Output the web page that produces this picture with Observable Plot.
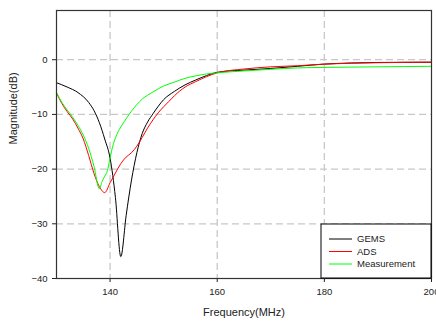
<!DOCTYPE html>
<html>
<head>
<meta charset="utf-8">
<script src="https://cdn.jsdelivr.net/npm/d3@7"></script>
<script src="https://cdn.jsdelivr.net/npm/@observablehq/plot@0.6"></script>
<style>
  html, body { margin: 0; padding: 0; background: #fff; }
</style>
</head>
<body>
<div id="chart"></div>
<script>
// ---- Data ----
const gemsFreq = [130, 132, 134, 136, 137, 138, 139, 140, 141, 142, 143, 144, 145, 146, 147, 148, 149, 150, 152, 154, 156, 158, 160, 165, 170, 175, 180, 185, 190, 200];
const gemsDb   = [-4.2, -5.0, -6.0, -7.8, -9.3, -11.5, -14.5, -18.0, -25.2, -36.0, -28.5, -22.0, -17.0, -13.5, -11.4, -9.9, -8.5, -7.3, -5.8, -4.6, -3.7, -2.9, -2.3, -1.9, -1.6, -1.2, -0.8, -0.6, -0.5, -0.45];

const adsFreq = [130, 131, 132, 133, 134, 135, 136, 137, 138, 139, 140, 141, 142, 143, 144, 145, 146, 147, 148, 149, 150, 151, 152, 154, 156, 158, 160, 165, 170, 175, 180, 190, 200];
const adsDb   = [-6.1, -8.0, -9.5, -10.8, -12.5, -14.5, -17.5, -20.8, -23.2, -24.3, -22.5, -20.7, -19.0, -17.8, -17.0, -15.8, -14.2, -12.5, -11.0, -9.7, -8.6, -7.6, -6.6, -5.0, -4.0, -3.1, -2.4, -1.7, -1.3, -1.1, -0.8, -0.55, -0.45];

const measFreq = [130, 131, 132, 133, 134, 135, 136, 137, 138, 138.5, 139, 139.5, 140, 140.5, 141, 142, 143, 144, 145, 146, 148, 150, 152, 154, 156, 158, 160, 165, 170, 175, 180, 185, 190, 200];
const measDb   = [-6.0, -7.8, -9.2, -10.5, -12.0, -13.8, -16.2, -19.5, -23.6, -22.3, -21.3, -20.3, -18.0, -15.8, -14.3, -12.3, -10.8, -9.4, -8.2, -7.2, -5.9, -4.8, -4.1, -3.4, -2.95, -2.6, -2.4, -2.05, -1.75, -1.5, -1.4, -1.35, -1.3, -1.2];

const seriesNames  = ["GEMS", "ADS", "Measurement"];
const seriesColors = ["#000000", "#ff0000", "#00ff00"];

const xTicks = [140, 160, 180, 200];
const yTicks = [0, -10, -20, -30, -40];
const xGrid = [140, 160, 180];
const yGrid = [0, -10, -20, -30];

// Build long-format table
const rows = [];
[[gemsFreq, gemsDb], [adsFreq, adsDb], [measFreq, measDb]].forEach(([f, v], i) => {
  f.forEach((fx, j) => rows.push({series: seriesNames[i], f: fx, db: v[j]}));
});

// Legend drawn as a custom mark anchored to the frame's bottom-right corner
function legendMark(index, scales, values, dims) {
  const g = d3.create("svg:g");
  const x1 = dims.width - dims.marginRight;
  const y1 = dims.height - dims.marginBottom;
  const w = 110, h = 54;
  const x0 = x1 - w, y0 = y1 - h;
  g.append("rect").attr("x", x0).attr("y", y0).attr("width", w).attr("height", h)
    .attr("fill", "#fff").attr("stroke", "#000").attr("stroke-width", 1);
  seriesNames.forEach((name, i) => {
    const yy = y0 + 15 + i * 12.5;
    g.append("line").attr("x1", x0 + 8).attr("x2", x0 + 31).attr("y1", yy).attr("y2", yy)
      .attr("stroke", seriesColors[i]).attr("stroke-width", 1);
    g.append("text").attr("x", x0 + 36).attr("y", yy).attr("dy", "0.35em")
      .attr("text-anchor", "start")
      .attr("font-size", 9.5).attr("fill", "#222").text(name);
  });
  return g.node();
}

const chart = Plot.plot({
  width: 436,
  height: 323,
  marginLeft: 56,
  marginTop: 10,
  marginRight: 5,
  marginBottom: 45,
  style: {fontFamily: "'Liberation Sans', Arial, sans-serif", fontSize: "9.5px", background: "#fff", color: "#222"},
  x: {domain: [130, 200], label: null},
  y: {domain: [-40, 9], label: null},
  color: {domain: seriesNames, range: seriesColors},
  marks: [
    Plot.ruleX(xGrid, {stroke: "#c8c8c8", strokeWidth: 1.3, strokeDasharray: "7,4"}),
    Plot.ruleY(yGrid, {stroke: "#c8c8c8", strokeWidth: 1.3, strokeDasharray: "7,4"}),
    Plot.axisX({ticks: xTicks, tickSize: 4, tickPadding: 6, label: null, stroke: "#222"}),
    Plot.axisY({ticks: yTicks, tickSize: 4, tickPadding: 5, label: null, stroke: "#222"}),
    Plot.line(rows, {x: "f", y: "db", z: "series", stroke: "series", strokeWidth: 1, curve: "monotone-x"}),
    Plot.frame({stroke: "#333", strokeWidth: 1.2}),
    legendMark,
    Plot.text(["Frequency(MHz)"], {frameAnchor: "bottom", dy: 37, fontSize: 11, fill: "#222"}),
    Plot.text(["Magnitude(dB)"], {frameAnchor: "left", dx: -43, rotate: -90, fontSize: 11, fill: "#222"})
  ]
});
document.getElementById("chart").appendChild(chart);
</script>
</body>
</html>
